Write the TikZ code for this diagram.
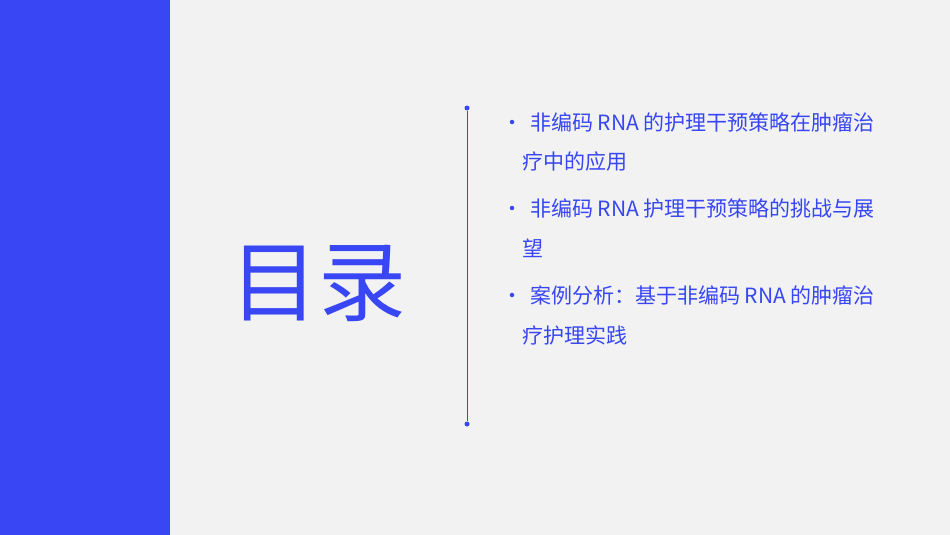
\documentclass[tikz,border=0pt]{standalone}
\usepackage{fontspec}
\newfontfamily\cjk{Noto Sans CJK SC}
\definecolor{mainblue}{HTML}{3846F4}
\definecolor{bg}{HTML}{F2F2F2}
\begin{document}
\begin{tikzpicture}[x=1pt,y=-1pt,
  item/.style={anchor=west,inner sep=0,text=mainblue,font=\cjk\fontsize{21}{24}\selectfont},
  dot/.style={circle,fill=mainblue,inner sep=0,minimum size=5pt}]
\useasboundingbox (0,0) rectangle (950,535);
\fill[bg] (0,0) rectangle (950,535);
\fill[mainblue] (0,0) rectangle (170,535);
\node[text=mainblue,font=\cjk\fontsize{88}{90}\selectfont,inner sep=0] (title) at (318,283) {目录};
\node[dot] (d1) at (467,108) {};
\node[dot] (d2) at (467,424) {};
\draw[mainblue,line width=1pt] (d1) -- (d2);
\foreach \y in {122,208,295} \node[circle,fill=mainblue,inner sep=0,minimum size=4.5pt] at (512,\y) {};
\node[item] (t1) at (530,122) {非编码 RNA 的护理干预策略在肿瘤治};
\node[item] (t1b) at (522,162) {疗中的应用};
\node[item] (t2) at (530,208) {非编码 RNA 护理干预策略的挑战与展};
\node[item] (t2b) at (522,248) {望};
\node[item] (t3) at (530,295) {案例分析：基于非编码 RNA 的肿瘤治};
\node[item] (t3b) at (522,335) {疗护理实践};
\end{tikzpicture}
\end{document}
